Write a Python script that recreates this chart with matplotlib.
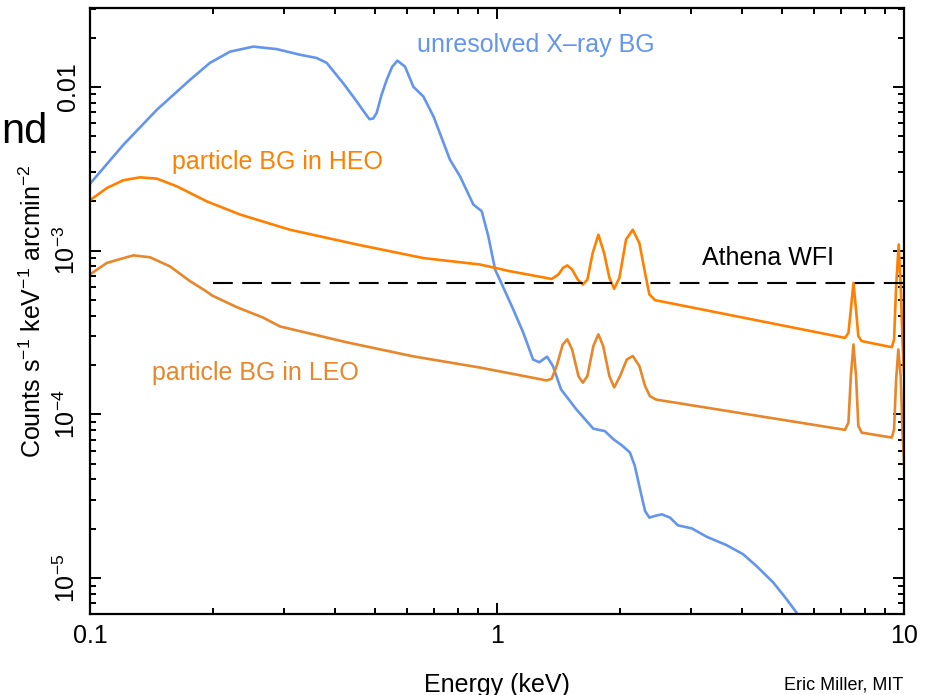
import matplotlib
matplotlib.use('Agg')
import matplotlib.pyplot as plt
from matplotlib.ticker import FixedLocator, LogLocator, NullFormatter

plt.rcParams['font.family'] = ['Liberation Sans', 'DejaVu Sans']
plt.rcParams['mathtext.fontset'] = 'custom'
plt.rcParams['mathtext.rm'] = 'Liberation Sans'
plt.rcParams['mathtext.it'] = 'Liberation Sans:italic'

# unresolved X-ray background
xrb_e = [0.1, 0.1208, 0.1459, 0.1761, 0.197, 0.2208, 0.2519, 0.2874, 0.328, 0.3605,
         0.3815, 0.419, 0.452, 0.47, 0.4857, 0.496, 0.506, 0.52, 0.5357, 0.552, 0.569,
         0.594, 0.623, 0.659, 0.698, 0.766, 0.811, 0.8745, 0.917, 0.952, 0.989, 1.024,
         1.096, 1.16, 1.226, 1.27, 1.327, 1.372, 1.436, 1.567, 1.724, 1.84, 1.93, 2.02,
         2.12, 2.18, 2.245, 2.31, 2.367, 2.45, 2.54, 2.66, 2.78, 3.01, 3.27, 3.66, 4.02,
         4.33, 4.77, 5.14, 5.45, 5.8]
xrb_c = [2.56e-3, 4.43e-3, 7.24e-3, 1.104e-2, 1.40e-2, 1.64e-2, 1.76e-2, 1.70e-2,
         1.57e-2, 1.50e-2, 1.40e-2, 1.05e-2, 8.15e-3, 7.1e-3, 6.35e-3, 6.4e-3, 6.92e-3,
         8.9e-3, 1.104e-2, 1.32e-2, 1.445e-2, 1.33e-2, 1.0e-2, 8.73e-3, 6.59e-3, 3.59e-3,
         2.84e-3, 1.91e-3, 1.74e-3, 1.22e-3, 7.66e-4, 6.35e-4, 4.37e-4, 3.15e-4, 2.16e-4,
         2.08e-4, 2.25e-4, 1.97e-4, 1.42e-4, 1.07e-4, 8.17e-5, 7.9e-5, 7.05e-5, 6.5e-5,
         5.85e-5, 4.84e-5, 3.49e-5, 2.57e-5, 2.34e-5, 2.40e-5, 2.45e-5, 2.34e-5, 2.10e-5,
         2.01e-5, 1.79e-5, 1.59e-5, 1.40e-5, 1.19e-5, 9.4e-6, 7.45e-6, 6.12e-6, 4.7e-6]

# particle background, high earth orbit
heo_e = [0.1, 0.11, 0.1208, 0.1327, 0.1459, 0.1633, 0.1934, 0.2336, 0.31, 0.452, 0.659,
         0.908, 1.076, 1.362, 1.415, 1.452, 1.488, 1.529, 1.579, 1.624, 1.667, 1.718,
         1.774, 1.832, 1.888, 1.94, 1.998, 2.075, 2.155, 2.237, 2.31, 2.367, 2.445,
         7.16, 7.30, 7.40, 7.51, 7.62, 7.72, 7.87, 9.33, 9.45, 9.56, 9.70, 9.81, 9.92,
         10.0]
heo_c = [2.03e-3, 2.41e-3, 2.69e-3, 2.80e-3, 2.75e-3, 2.47e-3, 2.0e-3, 1.66e-3, 1.34e-3,
         1.09e-3, 9.0e-4, 8.22e-4, 7.48e-4, 6.71e-4, 7.14e-4, 7.84e-4, 8.12e-4, 7.66e-4,
         6.65e-4, 6.2e-4, 6.65e-4, 9.68e-4, 1.25e-3, 9.68e-4, 6.82e-4, 5.84e-4, 6.82e-4,
         1.17e-3, 1.34e-3, 1.11e-3, 7.31e-4, 5.4e-4, 4.98e-4, 2.93e-4, 3.15e-4, 4.36e-4,
         6.35e-4, 4.36e-4, 3.0e-4, 2.8e-4, 2.57e-4, 2.86e-4, 6.05e-4, 1.09e-3, 6.05e-4,
         2.61e-4, 1.75e-4]

# particle background, low earth orbit
leo_e = [0.1, 0.11, 0.1278, 0.1404, 0.1573, 0.1761, 0.19, 0.2, 0.23, 0.266, 0.293, 0.428,
         0.622, 0.908, 1.324, 1.362, 1.401, 1.45, 1.488, 1.529, 1.585, 1.624, 1.667,
         1.724, 1.774, 1.823, 1.888, 1.94, 2.005, 2.083, 2.155, 2.237, 2.31, 2.375, 2.46,
         7.16, 7.30, 7.40, 7.51, 7.62, 7.72, 7.87, 9.33, 9.45, 9.56, 9.68, 9.81, 9.92,
         10.0]
leo_c = [7.15e-4, 8.41e-4, 9.35e-4, 9.1e-4, 8.0e-4, 6.5e-4, 5.78e-4, 5.3e-4, 4.5e-4,
         3.9e-4, 3.44e-4, 2.75e-4, 2.26e-4, 1.93e-4, 1.61e-4, 1.65e-4, 1.97e-4, 2.67e-4,
         2.87e-4, 2.49e-4, 1.71e-4, 1.56e-4, 1.71e-4, 2.61e-4, 3.08e-4, 2.61e-4, 1.71e-4,
         1.46e-4, 1.71e-4, 2.16e-4, 2.27e-4, 1.97e-4, 1.49e-4, 1.29e-4, 1.23e-4, 8.04e-5,
         8.9e-5, 1.71e-4, 2.67e-4, 1.71e-4, 8.5e-5, 7.73e-5, 7.21e-5, 8.1e-5, 1.63e-4,
         2.49e-4, 1.71e-4, 7.38e-5, 4.95e-5]

athena_e = [0.2, 10.0]
athena_c = [6.32e-4, 6.32e-4]

yticks = [1e-5, 1e-4, 1e-3, 1e-2]
ytick_labels = ['10$^{-5}$', '10$^{-4}$', '10$^{-3}$', '0.01']
xticks = [0.1, 1, 10]
xtick_labels = ['0.1', '1', '10']

blue = '#6495ed'
heo_col = '#ff8000'
leo_col = '#e8862a'

fig = plt.figure(figsize=(9.33, 6.95), dpi=100)
ax = fig.add_axes([0.0965, 0.1165, 0.8725, 0.872])

ax.plot(xrb_e, xrb_c, color=blue, lw=1.9, solid_joinstyle='round')
ax.plot(heo_e, heo_c, color=heo_col, lw=1.9, solid_joinstyle='round')
ax.plot(leo_e, leo_c, color=leo_col, lw=1.9, solid_joinstyle='round')
ax.plot(athena_e, athena_c, color='black', lw=1.5, linestyle=(0, (9.5, 4.5)))

ax.set_xscale('log')
ax.set_yscale('log')
ax.set_xlim(0.1, 10)
ax.set_ylim(6.03e-6, 0.0303)

ax.xaxis.set_major_locator(FixedLocator(xticks))
ax.set_xticklabels(xtick_labels)
ax.xaxis.set_minor_locator(LogLocator(base=10, subs=range(2, 10)))
ax.xaxis.set_minor_formatter(NullFormatter())
ax.yaxis.set_major_locator(FixedLocator(yticks))
ax.set_yticklabels(ytick_labels, rotation=90, va='center')
ax.yaxis.set_minor_locator(LogLocator(base=10, subs=range(2, 10)))
ax.yaxis.set_minor_formatter(NullFormatter())

ax.tick_params(which='both', direction='in', top=True, right=True, width=1.4,
               labelsize=18, colors='black')
ax.tick_params(which='major', length=8, pad=7)
ax.tick_params(which='minor', length=4.5)
for s in ax.spines.values():
    s.set_linewidth(1.6)

ax.set_xlabel('Energy (keV)', fontsize=18, labelpad=18)
ax.set_ylabel('Counts s$^{-1}$ keV$^{-1}$ arcmin$^{-2}$', fontsize=18, labelpad=6)

ax.text(1.247, 0.018, 'unresolved X\u2013ray BG', color=blue, fontsize=18,
        ha='center', va='center')
ax.text(0.159, 3.49e-3, 'particle BG in HEO', color=heo_col, fontsize=18,
        ha='left', va='center')
ax.text(0.142, 1.8e-4, 'particle BG in LEO', color=leo_col, fontsize=18,
        ha='left', va='center')
ax.text(3.19, 9.06e-4, 'Athena WFI', color='black', fontsize=18,
        ha='left', va='center')

# pieces of slide text around the crop
fig.text(0.001, 1 - 143 / 695, 'nd', fontsize=30, ha='left', va='baseline')
fig.text(903 / 933, 1 - 693 / 695, 'Eric Miller, MIT', fontsize=13, ha='right',
         va='bottom')

fig.savefig('out.png', dpi=100)
